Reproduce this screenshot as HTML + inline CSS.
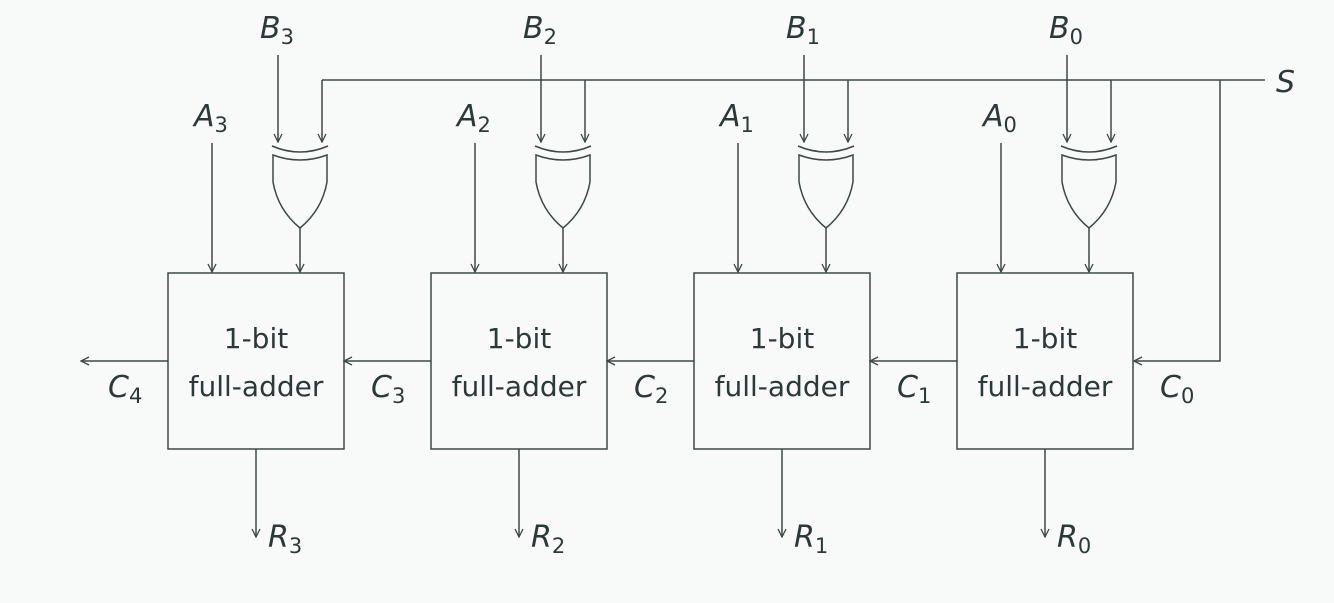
<!DOCTYPE html>
<html><head><meta charset="utf-8"><style>
html,body{margin:0;padding:0;background:#f8f9f9;}
svg{display:block;}
text{font-family:"DejaVu Sans","Liberation Sans",sans-serif;fill:#2d3838;}
.l{font-style:italic;font-size:30px;}
.s{font-size:21px;font-style:normal;}
.b{font-size:28px;}
</style></head><body>
<svg width="1334" height="603" viewBox="0 0 1334 603" xmlns="http://www.w3.org/2000/svg">
<defs>
<marker id="ar" markerWidth="10" markerHeight="10" refX="9" refY="5" orient="auto" markerUnits="userSpaceOnUse">
<path d="M1,1 L9,5 L1,9" fill="none" stroke="#3d4848" stroke-width="1.3"/>
</marker>
<g id="st" fill="none" stroke="#3d4848" stroke-width="1.5">
<rect x="168" y="273" width="176" height="176"/>
<line x1="212" y1="143" x2="212" y2="272" marker-end="url(#ar)"/>
<line x1="278" y1="55" x2="278" y2="142" marker-end="url(#ar)"/>
<line x1="322" y1="80" x2="322" y2="142" marker-end="url(#ar)"/>
<path d="M272,146 Q300,158 328,146"/>
<path d="M273,155 Q300,165 327,155 L327,182 Q322,210 300,228 Q278,210 273,182 Z"/>
<line x1="300" y1="228" x2="300" y2="272" marker-end="url(#ar)"/>
<line x1="256" y1="449" x2="256" y2="537" marker-end="url(#ar)"/>
<line x1="168" y1="361" x2="81" y2="361" marker-end="url(#ar)"/>
</g>
</defs>
<use href="#st"/>
<use href="#st" x="263"/>
<use href="#st" x="526"/>
<use href="#st" x="789"/>
<g fill="none" stroke="#3d4848" stroke-width="1.5">
<line x1="322" y1="80" x2="1265" y2="80"/>
<polyline points="1220,80 1220,361 1134,361" marker-end="url(#ar)"/>
</g>
<g>
<text class="l" x="1276" y="92">S</text>
<!-- labels per stage -->
<text class="l" x="260" y="38">B<tspan class="s" dy="6">3</tspan></text>
<text class="l" x="523" y="38">B<tspan class="s" dy="6">2</tspan></text>
<text class="l" x="786" y="38">B<tspan class="s" dy="6">1</tspan></text>
<text class="l" x="1049" y="38">B<tspan class="s" dy="6">0</tspan></text>
<text class="l" x="194" y="126">A<tspan class="s" dy="6">3</tspan></text>
<text class="l" x="457" y="126">A<tspan class="s" dy="6">2</tspan></text>
<text class="l" x="720" y="126">A<tspan class="s" dy="6">1</tspan></text>
<text class="l" x="983" y="126">A<tspan class="s" dy="6">0</tspan></text>
<text class="l" x="268" y="547">R<tspan class="s" dy="6">3</tspan></text>
<text class="l" x="531" y="547">R<tspan class="s" dy="6">2</tspan></text>
<text class="l" x="794" y="547">R<tspan class="s" dy="6">1</tspan></text>
<text class="l" x="1057" y="547">R<tspan class="s" dy="6">0</tspan></text>
<text class="l" x="108" y="397">C<tspan class="s" dy="6">4</tspan></text>
<text class="l" x="371" y="397">C<tspan class="s" dy="6">3</tspan></text>
<text class="l" x="634" y="397">C<tspan class="s" dy="6">2</tspan></text>
<text class="l" x="897" y="397">C<tspan class="s" dy="6">1</tspan></text>
<text class="l" x="1160" y="397">C<tspan class="s" dy="6">0</tspan></text>
</g>
<g class="b" text-anchor="middle">
<text class="b" x="256" y="348">1-bit</text><text class="b" x="256" y="396">full-adder</text>
<text class="b" x="519" y="348">1-bit</text><text class="b" x="519" y="396">full-adder</text>
<text class="b" x="782" y="348">1-bit</text><text class="b" x="782" y="396">full-adder</text>
<text class="b" x="1045" y="348">1-bit</text><text class="b" x="1045" y="396">full-adder</text>
</g>
</svg>
</body></html>
